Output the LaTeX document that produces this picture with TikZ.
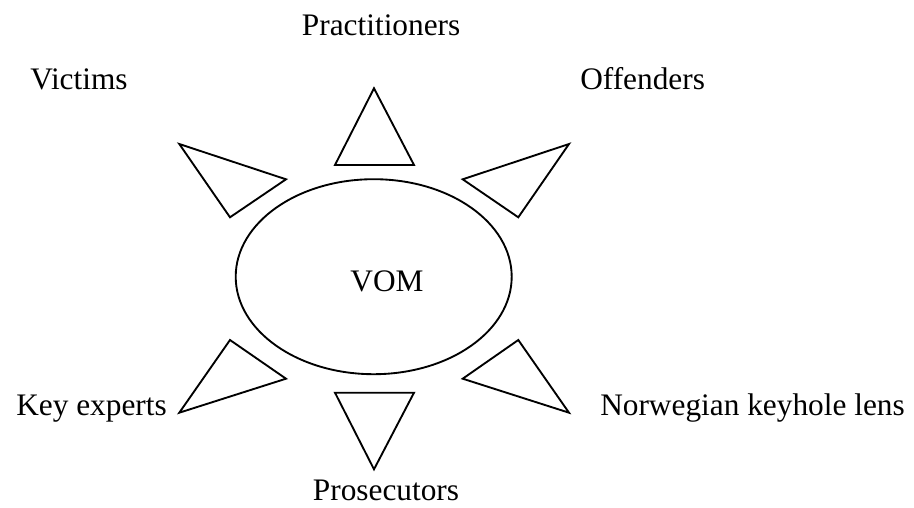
\documentclass[tikz,border=0pt]{standalone}
\usepackage{fontspec}
\setmainfont{Liberation Serif}
\usetikzlibrary{shapes.geometric}
\begin{document}
\begin{tikzpicture}[x=0.75pt,y=-0.75pt,
  outline/.style={draw=black,line width=1.4pt,line join=miter},
  label/.style={font=\fontsize{23.5}{28}\selectfont,inner sep=0pt,anchor=base}]
\useasboundingbox (0,0) rectangle (914,507);

% central ellipse
\node[outline,ellipse,minimum width=276*0.75pt,minimum height=195*0.75pt,inner sep=0pt] (vom) at (373.7,276.7) {};
\node[label] (vomtext) at (387,291.7) {VOM};

% surrounding triangles
\coordinate (tl1) at (179.3,144);   \coordinate (tl2) at (286,179.3);   \coordinate (tl3) at (230,217.3);
\coordinate (tt1) at (374,88.3);    \coordinate (tt2) at (335,165);     \coordinate (tt3) at (414,165);
\coordinate (tr1) at (569,144);     \coordinate (tr2) at (462.7,179.3); \coordinate (tr3) at (518.3,217.3);
\coordinate (bl1) at (230,340);     \coordinate (bl2) at (286,378.7);   \coordinate (bl3) at (179.3,412.7);
\coordinate (bb1) at (335,392.7);   \coordinate (bb2) at (414,392.7);   \coordinate (bb3) at (374,469.3);
\coordinate (br1) at (518.3,340);   \coordinate (br2) at (462.7,378.7); \coordinate (br3) at (569,412.7);

\draw[outline] (tl1) -- (tl2) -- (tl3) -- cycle;
\draw[outline] (tt1) -- (tt2) -- (tt3) -- cycle;
\draw[outline] (tr1) -- (tr2) -- (tr3) -- cycle;
\draw[outline] (bl1) -- (bl2) -- (bl3) -- cycle;
\draw[outline] (bb1) -- (bb2) -- (bb3) -- cycle;
\draw[outline] (br1) -- (br2) -- (br3) -- cycle;

% stakeholder labels
\node[label,anchor=base west] (practitioners) at (301.7,35) {Practitioners};
\node[label,anchor=base west] (victims) at (30,89.3) {Victims};
\node[label,anchor=base west] (offenders) at (580,89.3) {Offenders};
\node[label,anchor=base west] (keyexperts) at (16,415) {Key experts};
\node[label,anchor=base west] (norwegian) at (600,415) {Norwegian keyhole lens};
\node[label,anchor=base] (prosecutors) at (386,500) {Prosecutors};
\end{tikzpicture}
\end{document}
